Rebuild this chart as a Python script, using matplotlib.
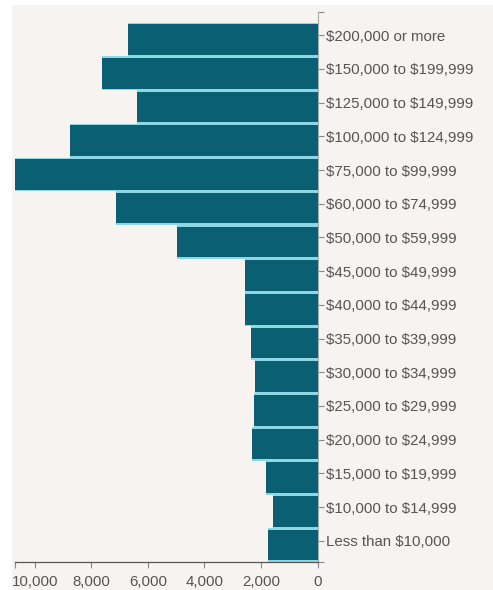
import matplotlib
matplotlib.use("Agg")
import matplotlib.pyplot as plt
from matplotlib.patches import Rectangle
from matplotlib.ticker import FixedLocator

plt.rcParams["text.parse_math"] = False

categories = [
    "Less than $10,000", "$10,000 to $14,999", "$15,000 to $19,999",
    "$20,000 to $24,999", "$25,000 to $29,999", "$30,000 to $34,999",
    "$35,000 to $39,999", "$40,000 to $44,999", "$45,000 to $49,999",
    "$50,000 to $59,999", "$60,000 to $74,999", "$75,000 to $99,999",
    "$100,000 to $124,999", "$125,000 to $149,999", "$150,000 to $199,999",
    "$200,000 or more",
]
values = [1760, 1570, 1820, 2310, 2255, 2195, 2350, 2575, 2550,
          4970, 7130, 10700, 8740, 6385, 7620, 6700]
xticks = [0, 2000, 4000, 6000, 8000, 10000]
xtick_labels = ["0", "2,000", "4,000", "6,000", "8,000", "10,000"]

W, H = 493, 590
fig = plt.figure(figsize=(W / 100, H / 100), dpi=100)
fig.patch.set_facecolor("white")
fig.patches.append(Rectangle((12 / W, 0), 1 - 12 / W, 1 - 5 / H,
                             transform=fig.transFigure, facecolor="#f7f3f0",
                             edgecolor="none", zorder=-10))

left, right = 15, 317.5
top, bottom = 12, 562
ax = fig.add_axes([left / W, (H - bottom) / H, (right - left) / W, (bottom - top) / H])
ax.set_facecolor("none")

ypos = list(range(len(categories)))
ax.barh(ypos, values, height=1.0, color="#8fd6e6", linewidth=0, zorder=2)
ax.barh(ypos, values, height=0.91, color="#0b5f73", linewidth=0, zorder=3)

ax.set_xlim(max(values), 0)
ax.set_ylim(-0.5, len(categories) - 0.5 + 0.32)

txt = "#555555"
ax.set_xticks(xticks)
ax.set_xticklabels(xtick_labels)
ax.set_yticks([p + 0.13 for p in ypos])
ax.set_yticklabels(categories)
ax.yaxis.tick_right()
ax.yaxis.set_label_position("right")

ax.xaxis.set_minor_locator(FixedLocator([max(values)]))
ax.yaxis.set_minor_locator(FixedLocator([-0.5, len(categories) - 0.5 + 0.32]))

ax.tick_params(axis="x", which="both", direction="out", length=4, width=0.8,
               color="#888888", labelsize=10.8, labelcolor=txt, pad=5)
ax.tick_params(axis="y", which="both", direction="out", length=4, width=0.8,
               color="#888888", labelsize=10.8, labelcolor=txt, pad=2,
               left=False, right=True)

for s in ["left", "top"]:
    ax.spines[s].set_visible(False)
ax.spines["bottom"].set_color("#555555")
ax.spines["bottom"].set_linewidth(0.9)
ax.spines["right"].set_color("#aaaaaa")
ax.spines["right"].set_linewidth(0.8)

for lbl in ax.get_xticklabels() + ax.get_yticklabels():
    lbl.set_fontfamily("Liberation Sans")

fig.savefig("out.png", dpi=100, facecolor=fig.get_facecolor())
